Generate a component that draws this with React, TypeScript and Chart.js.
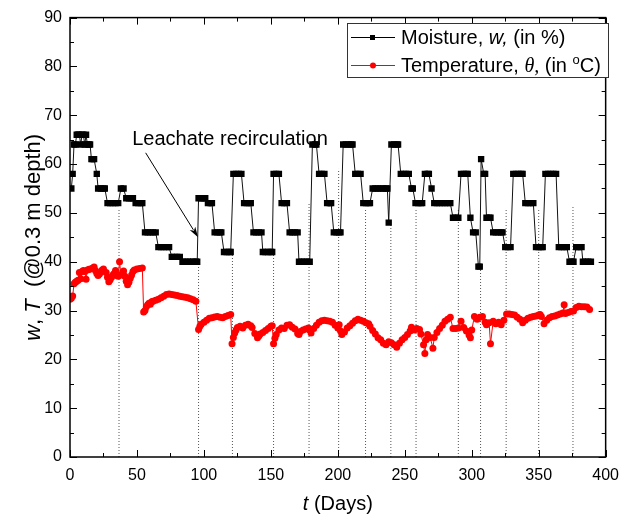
import React, { useEffect, useRef } from "react";
import { Chart, registerables } from "chart.js";

Chart.register(...registerables);

const SANS = "'Liberation Sans', Arial, Helvetica, sans-serif";
const SERIF = "'Liberation Serif', 'Times New Roman', serif";

// Moisture content w (%) at 0.3 m depth
const moistureDays = [
  1, 2, 3, 4, 5, 6, 7, 8, 9, 10, 11, 12, 13, 14, 15, 16, 17, 18, 20,
  21, 23, 25, 26, 28, 30, 32, 34, 36, 38, 40, 42, 44, 46, 47, 49, 51, 53, 54,
  56, 58, 60, 62, 64, 66, 68, 70, 72, 74, 76, 78, 80, 82,
  84, 86, 88, 90, 92, 94, 95, 96, 98, 100, 101, 103, 105, 106,
  108, 110, 112, 113, 115, 117, 119, 120, 122, 124, 126, 128,
  130, 132, 134, 135, 137, 139, 141, 143, 144, 146, 148, 150, 151,
  152, 154, 156, 158, 160, 162, 164, 166, 168, 170,
  171, 173, 175, 177, 179, 181, 183, 184, 186, 188, 190, 192, 194, 195,
  197, 199, 201, 202, 204, 206, 208, 210, 211, 213, 215, 217, 219, 221, 223, 224,
  226, 228, 230, 232, 234, 236, 237, 238, 240, 242, 244, 245,
  247, 249, 251, 253, 255, 256, 258, 260, 262, 263, 265, 267, 268, 270,
  272, 274, 276, 278, 280, 282, 284, 286, 288, 290, 292, 294, 296, 297,
  299, 301, 303, 305, 306, 307, 309, 310, 311, 313, 314,
  316, 318, 320, 322, 323, 325, 327, 329, 331, 333, 335, 337, 338,
  340, 342, 344, 346, 348, 350, 352, 353, 355, 357, 359, 361, 363,
  365, 367, 369, 371, 373, 375, 376, 378, 380, 382, 383, 385, 387, 389,
];
const moistureValues = [
  55, 58, 64, 64, 66, 66, 66, 64, 66, 66, 64, 66, 64, 64, 64, 61, 61, 61, 58,
  55, 55, 55, 55, 52, 52, 52, 52, 52, 55, 55, 53, 53, 53, 53, 52, 52, 52, 52,
  46, 46, 46, 46, 46, 43, 43, 43, 43, 43, 41, 41, 41, 41,
  40, 40, 40, 40, 40, 40, 40, 53, 53, 53, 53, 52, 52, 52,
  46, 46, 46, 46, 42, 42, 42, 42, 58, 58, 58, 58,
  52, 52, 52, 52, 46, 46, 46, 46, 42, 42, 42, 42, 42,
  58, 58, 58, 52, 52, 52, 46, 46, 46, 46,
  40, 40, 40, 40, 40, 64, 64, 64, 58, 58, 58, 52, 52, 52,
  46, 46, 46, 46, 64, 64, 64, 64, 64, 58, 58, 58, 52, 52, 52, 52,
  55, 55, 55, 55, 55, 55, 55, 48, 64, 64, 64, 64,
  58, 58, 58, 58, 55, 55, 52, 52, 52, 52, 58, 58, 58, 55,
  52, 52, 52, 52, 52, 52, 52, 49, 49, 49, 58, 58, 58, 58,
  49, 46, 46, 39, 39, 61, 58, 58, 49, 49, 49,
  46, 46, 46, 46, 46, 43, 43, 43, 58, 58, 58, 58, 58,
  52, 52, 52, 52, 43, 43, 43, 43, 58, 58, 58, 58, 58,
  43, 43, 43, 43, 40, 40, 40, 43, 43, 43, 40, 40, 40, 40,
];

// Temperature θ (°C) at 0.3 m depth
const temperatureDays = [
  0, 1, 2, 3, 4, 5, 6, 7, 8, 9, 10, 11, 12, 13, 14, 15, 17, 18, 19, 20,
  21, 22, 23, 24, 25, 27, 28, 29, 30, 31, 32, 33, 34, 35, 36, 37, 38, 39, 40,
  41, 42, 43, 44, 45, 46, 47, 48, 50, 52, 54, 55, 56, 57, 58, 59, 60, 61, 62,
  64, 66, 68, 70, 72, 74, 76, 78, 80, 82, 84, 86, 88, 90, 92, 94,
  96, 97, 98, 100, 102, 104, 106, 108, 110, 112, 114, 116, 118, 120,
  121, 122, 123, 124, 125, 127, 129, 131, 133, 135, 136, 138, 140, 141, 142,
  144, 146, 148, 150, 151, 152, 153, 154, 156, 158, 160, 162, 164, 166, 168,
  170, 171, 172, 174, 176, 178, 179, 180, 182, 184, 186, 188, 190, 192, 194,
  196, 198, 200, 201, 202, 203, 205, 207, 209, 211, 213, 215, 217, 219, 221,
  223, 224, 226, 228, 230, 232, 234, 236, 238, 240, 242, 244, 246, 248, 250,
  252, 254, 255, 257, 259, 261, 262, 264, 265, 266, 267, 269, 271, 272, 274,
  276, 278, 280, 282, 284, 286, 288, 290, 292, 294, 296, 298, 299, 300, 302,
  304, 306, 308, 310, 311, 313, 314, 316, 318, 320, 322, 324, 326, 328, 330,
  332, 334, 336, 338, 340, 342, 344, 346, 348, 350, 351, 352, 354, 356, 358,
  360, 362, 364, 366, 368, 369, 370, 372, 374, 376, 378, 380, 382, 384, 386, 388,
];
const temperatureValues = [
  32.3, 32.5, 33.0, 35.5, 35.8, 36.0, 36.2, 37.8, 36.5, 38.0, 38.2, 38.0, 36.4, 38.3, 38.4, 38.5, 38.7, 38.9, 38.2, 37.6,
  37.2, 37.5, 37.9, 38.3, 38.5, 37.8, 36.8, 35.9, 36.3, 36.8, 37.3, 37.6, 38.2, 37.2, 37.0, 40.0, 37.3, 37.6, 38.1,
  37.0, 36.0, 35.3, 35.8, 36.6, 37.3, 38.0, 38.3, 38.5, 38.6, 38.7, 29.7, 30.0, 30.8, 31.2, 31.5, 31.3, 31.8, 31.9,
  32.1, 32.3, 32.6, 32.9, 33.3, 33.4, 33.3, 33.2, 33.1, 32.9, 32.8, 32.7, 32.6, 32.4, 32.2, 31.9,
  26.1, 26.8, 27.2, 27.6, 28.0, 28.4, 28.5, 28.7, 28.8, 28.6, 28.5, 28.8, 29.0, 29.2,
  23.2, 24.5, 25.4, 26.0, 26.5, 26.8, 26.4, 27.0, 27.2, 26.9, 26.5, 25.3, 24.4, 24.8, 25.2,
  25.5, 25.9, 26.3, 26.8, 26.9, 23.2, 24.3, 25.1, 26.0, 26.4, 26.3, 27.0, 27.1, 26.6, 26.2,
  25.3, 25.1, 25.7, 26.0, 26.2, 26.4, 26.0, 25.4, 26.3, 27.0, 27.6, 27.9, 28.0, 27.9, 27.8,
  27.6, 27.0, 26.4, 27.1, 25.8, 25.1, 25.6, 26.4, 26.9, 27.4, 27.9, 28.2, 28.0, 27.8, 27.5,
  27.3, 26.8, 25.9, 25.2, 24.4, 24.0, 23.3, 23.0, 23.6, 23.4, 23.0, 22.5, 23.3, 24.0, 24.5,
  25.1, 25.8, 26.6, 26.0, 26.3, 26.1, 25.2, 23.0, 21.2, 24.0, 25.1, 24.5, 22.3, 24.5, 25.5,
  26.3, 27.0, 27.8, 28.2, 28.6, 26.3, 26.3, 26.4, 27.8, 26.5, 25.8, 25.0, 24.4, 26.0, 28.8,
  28.2, 28.6, 28.8, 27.6, 27.1, 27.5, 23.2, 27.8, 27.3, 27.6, 27.1, 28.0, 29.3, 29.3, 29.2,
  29.1, 28.6, 28.2, 27.5, 28.0, 28.4, 28.6, 28.8, 28.9, 29.1, 29.2, 28.8, 27.3, 28.0, 28.5,
  28.8, 28.9, 29.1, 29.3, 29.5, 31.2, 29.4, 29.6, 29.8, 29.9, 30.6, 30.9, 30.8, 30.8, 30.7, 30.2,
];

// Leachate recirculation events (day, height of the marker line)
const recirculationDays = [36.6, 96, 121.3, 152, 178.5, 200.6, 220.7, 239.6, 258.4, 290, 306.6, 325.7, 350, 375.6];
const recirculationTops = [51, 40, 42, 42, 52, 59, 51, 48, 51, 51, 39, 51, 51, 51.5];

// Axis ranges and tick spacing
const xRange = [0, 400];
const yRange = [0, 90];
const xMajor = 50;
const xMinor = 25;
const yMajor = 10;
const yMinor = 5;

// Annotation anchor points (data units)
const noteText = "Leachate recirculation";
const notePos = [46.4, 64.0];
const arrowFrom = [56.5, 62.3];
const arrowTo = [95.6, 45.0];

type Run = { text: string; italic?: boolean; serif?: boolean; sup?: boolean };

function runFont(r: Run, size: number) {
  const s = r.sup ? Math.round(size * 0.65) : size;
  return `${r.italic ? "italic " : ""}${s}px ${r.serif ? SERIF : SANS}`;
}

function runsWidth(ctx: CanvasRenderingContext2D, runs: Run[], size: number) {
  let w = 0;
  for (const r of runs) {
    ctx.font = runFont(r, size);
    w += ctx.measureText(r.text).width;
  }
  return w;
}

function drawRuns(ctx: CanvasRenderingContext2D, runs: Run[], x: number, y: number, size: number) {
  let cx = x;
  ctx.textBaseline = "alphabetic";
  ctx.textAlign = "left";
  for (const r of runs) {
    ctx.font = runFont(r, size);
    ctx.fillText(r.text, cx, r.sup ? y - size * 0.42 : y);
    cx += ctx.measureText(r.text).width;
  }
}

const decorations = {
  id: "decorations",
  afterDatasetsDraw(chart: any) {
    const { ctx, chartArea: a, scales } = chart;
    const xs = scales.x;
    const ys = scales.y;
    ctx.save();
    ctx.strokeStyle = "#000";
    ctx.lineWidth = 1;
    ctx.beginPath();
    for (let v = xRange[0]; v <= xRange[1]; v += xMinor) {
      const px = Math.round(xs.getPixelForValue(v)) + 0.5;
      const len = v % xMajor === 0 ? 7 : 4;
      ctx.moveTo(px, a.bottom);
      ctx.lineTo(px, a.bottom - len);
      ctx.moveTo(px, a.top);
      ctx.lineTo(px, a.top + len);
    }
    for (let v = yRange[0]; v <= yRange[1]; v += yMinor) {
      const py = Math.round(ys.getPixelForValue(v)) + 0.5;
      const len = v % yMajor === 0 ? 7 : 4;
      ctx.moveTo(a.left, py);
      ctx.lineTo(a.left + len, py);
      ctx.moveTo(a.right, py);
      ctx.lineTo(a.right - len, py);
    }
    ctx.stroke();
    ctx.lineWidth = 1.5;
    ctx.strokeRect(a.left, a.top, a.right - a.left, a.bottom - a.top);

    // annotation text and arrow
    ctx.fillStyle = "#000";
    drawRuns(ctx, [{ text: noteText }], xs.getPixelForValue(notePos[0]), ys.getPixelForValue(notePos[1]), 20);
    const x1 = xs.getPixelForValue(arrowFrom[0]);
    const y1 = ys.getPixelForValue(arrowFrom[1]);
    const x2 = xs.getPixelForValue(arrowTo[0]);
    const y2 = ys.getPixelForValue(arrowTo[1]);
    const ang = Math.atan2(y2 - y1, x2 - x1);
    const head = 11;
    ctx.lineWidth = 1;
    ctx.beginPath();
    ctx.moveTo(x1, y1);
    ctx.lineTo(x2 - Math.cos(ang) * head * 0.8, y2 - Math.sin(ang) * head * 0.8);
    ctx.stroke();
    ctx.beginPath();
    ctx.moveTo(x2, y2);
    ctx.lineTo(x2 - head * Math.cos(ang - 0.3), y2 - head * Math.sin(ang - 0.3));
    ctx.lineTo(x2 - head * 0.7 * Math.cos(ang), y2 - head * 0.7 * Math.sin(ang));
    ctx.lineTo(x2 - head * Math.cos(ang + 0.3), y2 - head * Math.sin(ang + 0.3));
    ctx.closePath();
    ctx.fill();

    // legend
    const lx = 347, ly = 23, lw = 261, lh = 54;
    ctx.fillStyle = "#fff";
    ctx.fillRect(lx, ly, lw, lh);
    ctx.strokeStyle = "#333";
    ctx.lineWidth = 1;
    ctx.strokeRect(lx + 0.5, ly + 0.5, lw, lh);
    const rows = [
      {
        y: 37,
        color: "#000",
        square: true,
        runs: [{ text: "Moisture, " }, { text: "w,", italic: true }, { text: " (in %)" }] as Run[],
      },
      {
        y: 65,
        color: "#ff0000",
        square: false,
        runs: [
          { text: "Temperature, " },
          { text: "θ,", italic: true, serif: true },
          { text: " (in " },
          { text: "o", sup: true },
          { text: "C)" },
        ] as Run[],
      },
    ];
    for (const r of rows) {
      ctx.strokeStyle = r.color;
      ctx.fillStyle = r.color;
      ctx.lineWidth = 1;
      ctx.beginPath();
      ctx.moveTo(351, r.y + 0.5);
      ctx.lineTo(395, r.y + 0.5);
      ctx.stroke();
      if (r.square) {
        ctx.fillRect(370, r.y - 2, 5, 5);
      } else {
        ctx.beginPath();
        ctx.arc(373, r.y + 0.5, 3, 0, Math.PI * 2);
        ctx.fill();
      }
      ctx.fillStyle = "#000";
      drawRuns(ctx, r.runs, 401, r.y + 7, 20);
    }

    // axis titles
    const xt: Run[] = [{ text: "t", italic: true }, { text: " (Days)" }];
    const xw = runsWidth(ctx, xt, 20);
    drawRuns(ctx, xt, (a.left + a.right) / 2 - xw / 2, 510, 20);

    const yt: Run[] = [
      { text: "w", italic: true },
      { text: ", " },
      { text: "T", italic: true },
      { text: "  (@0.3 m depth)" },
    ];
    const yw = runsWidth(ctx, yt, 22);
    ctx.save();
    ctx.translate(40, (a.top + a.bottom) / 2);
    ctx.rotate(-Math.PI / 2);
    drawRuns(ctx, yt, -yw / 2, 0, 22);
    ctx.restore();
    ctx.restore();
  },
};

export default function App() {
  const ref = useRef<HTMLCanvasElement | null>(null);

  useEffect(() => {
    if (!ref.current) return;
    const eventSets = recirculationDays.map((d, i) => ({
      label: `event-${i}`,
      data: [
        { x: d, y: 0 },
        { x: d, y: recirculationTops[i] },
      ],
      borderColor: "#555",
      borderWidth: 1,
      borderDash: [1, 2],
      pointRadius: 0,
      fill: false,
    }));
    const chart = new Chart(ref.current, {
      type: "line",
      data: {
        datasets: [
          {
            label: "Moisture",
            data: moistureDays.map((d, i) => ({ x: d, y: moistureValues[i] })),
            borderColor: "#111",
            borderWidth: 1,
            pointStyle: "rect",
            pointRadius: 4.5,
            pointBackgroundColor: "#000",
            pointBorderWidth: 0,
            fill: false,
          },
          {
            label: "Temperature",
            data: temperatureDays.map((d, i) => ({ x: d, y: temperatureValues[i] })),
            borderColor: "#ff0000",
            borderWidth: 1,
            pointStyle: "circle",
            pointRadius: 3.5,
            pointBackgroundColor: "#ff0000",
            pointBorderWidth: 0,
            fill: false,
          },
          ...eventSets,
        ],
      },
      options: {
        responsive: false,
        animation: false,
        events: [],
        layout: { padding: { left: 0, top: 17, right: 15, bottom: 0 } },
        plugins: { legend: { display: false }, tooltip: { enabled: false } },
        scales: {
          x: {
            type: "linear",
            min: xRange[0],
            max: xRange[1],
            grid: { display: false, drawTicks: false },
            border: { display: false },
            ticks: {
              stepSize: xMajor,
              padding: 9,
              color: "#000",
              font: { family: SANS, size: 16 },
              maxRotation: 0,
            },
            afterFit: (s: any) => {
              s.height = 60;
            },
          },
          y: {
            type: "linear",
            min: yRange[0],
            max: yRange[1],
            grid: { display: false, drawTicks: false },
            border: { display: false },
            ticks: {
              stepSize: yMajor,
              padding: 8,
              color: "#000",
              font: { family: SANS, size: 16 },
            },
            afterFit: (s: any) => {
              s.width = 70;
            },
          },
        },
      },
      plugins: [decorations],
    } as any);
    return () => chart.destroy();
  }, []);

  return (
    <div style={{ position: "fixed", left: 0, top: 0, width: 628, height: 517, background: "#fff" }}>
      <canvas ref={ref} width={628} height={517} style={{ display: "block" }} />
    </div>
  );
}
